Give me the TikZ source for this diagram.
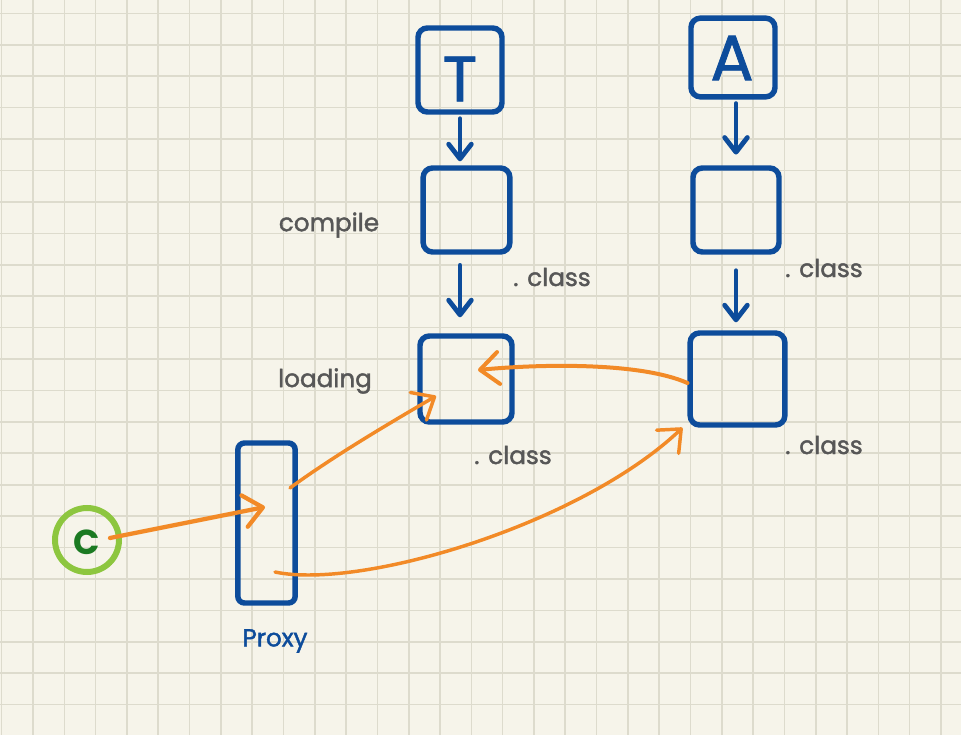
\documentclass[tikz,border=0pt]{standalone}
\usepackage{fontspec}
\setmainfont{Poppins}
\newfontfamily\handfont[FakeBold=1.6]{Poppins}
\newfontfamily\letterfont[FakeBold=1.2]{Poppins}
\usetikzlibrary{arrows.meta,calc}
\definecolor{paper}{HTML}{F6F4EA}
\definecolor{gridc}{HTML}{DDDBCD}
\definecolor{inkblue}{HTML}{0D4C9B}
\definecolor{inkorange}{HTML}{F28A27}
\definecolor{inkgrey}{HTML}{575757}
\definecolor{lgreen}{HTML}{8DC63F}
\definecolor{dgreen}{HTML}{1B7A22}
\begin{document}
\begin{tikzpicture}[x=0.75pt,y=-0.75pt,
  box/.style={draw=inkblue, line width=4.1pt, rounded corners=7pt, inner sep=0pt},
  bluearrow/.style={draw=inkblue, line width=3.6pt, line cap=round,
    -{Straight Barb[length=11pt,width=17pt,round]}},
  oarrow/.style={draw=inkorange, line width=3pt, line cap=round,
    -{Straight Barb[length=14pt,width=24pt,round]}},
  lbl/.style={text=inkgrey, font=\handfont\fontsize{18.5}{20}\selectfont, inner sep=0pt},
  letter/.style={text=inkblue, font=\letterfont\fontsize{48}{50}\selectfont, inner sep=0pt}]
\useasboundingbox (0,0) rectangle (961,735);
\fill[paper] (0,0) rectangle (961,735);
\foreach \k in {0,...,30} \draw[gridc, line width=1.2pt] ({1.7+31.31*\k},0) -- ({1.7+31.31*\k},735);
\foreach \k in {0,...,22} \draw[gridc, line width=1.2pt] (0,{13.4+31.42*\k}) -- (961,{13.4+31.42*\k});

% boxes
\node[box, minimum width=63pt, minimum height=63pt] (T) at (460,70) {};
\node[box, minimum width=65pt, minimum height=63pt] (TC) at (466.5,210) {};
\node[box, minimum width=69pt, minimum height=64.5pt] (TL) at (466,379) {};
\node[box, minimum width=63pt, minimum height=59pt] (A) at (733,57.5) {};
\node[box, minimum width=64.5pt, minimum height=63pt] (AC) at (736,210) {};
\node[box, minimum width=71pt, minimum height=69pt] (AL) at (737.5,379) {};
\node[box, minimum width=43pt, minimum height=120pt, rounded corners=5pt] (P) at (266.5,523) {};
\node[circle, draw=lgreen, line width=4.5pt, minimum size=48pt, inner sep=0pt] (C) at (87,540) {};

% letters
\node[letter] (Tt) at (460,79) {T};
\node[letter] (At) at (732,58) {A};
\node[text=dgreen, font=\fontsize{26}{28}\selectfont\bfseries, inner sep=0pt] (Ct) at (87,542) {C};

% labels
\node[lbl] (lcompile) at (329,225) {compile};
\node[lbl] (lcls1) at (552,277) {. class};
\node[lbl] (lloading) at (325,381) {loading};
\node[lbl] (lcls2) at (513,455) {. class};
\node[lbl] (lcls3) at (824,268) {. class};
\node[lbl] (lcls4) at (824,445) {. class};
\node[text=inkblue, font=\handfont\fontsize{18.5}{20}\selectfont, inner sep=0pt] (lproxy) at (275,641) {Proxy};

% blue arrows
\draw[bluearrow, shorten <=3pt, shorten >=3pt] (T.south) -- (TC.north -| T.south);
\draw[bluearrow, shorten <=8pt, shorten >=12pt] (TC.south -| T.south) -- (TL.north -| T.south);
\draw[bluearrow, shorten <=3pt, shorten >=8pt] (A.south -| AC.north) -- (AC.north);
\draw[bluearrow, shorten <=12pt, shorten >=6pt] (AC.south) -- (AL.north -| AC.south);

% orange arrows
\draw[oarrow, line width=3.2pt] ($(C.center)+(23,-2)$) -- ($(P.center)+(-1.5,-16)$);
\draw[oarrow, line width=2.6pt] ($(P.center)+(23.5,-35)$) .. controls (335,455) and (395,420) .. ($(TL.center)+(-30,17)$);
\draw[oarrow] ($(AL.west)+(0,4)$) .. controls (640,362) and (540,364) .. ($(TL.center)+(12,-9)$);
\draw[oarrow, line width=2.6pt] ($(P.center)+(8.5,49)$) .. controls (360,590) and (580,525) .. ($(AL.south west)+(-5,0)$);
\end{tikzpicture}
\end{document}
